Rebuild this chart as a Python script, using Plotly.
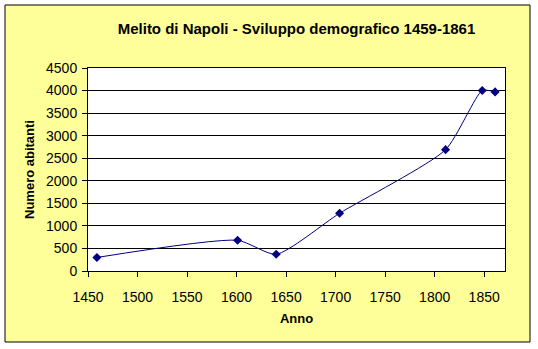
import plotly.graph_objects as go

# Population of Melito di Napoli by census year
anni = [1459, 1601, 1640, 1704, 1811, 1848, 1861]
abitanti = [300, 680, 370, 1280, 2690, 4000, 3970]

title_text = "Melito di Napoli - Sviluppo demografico 1459-1861"
x_title = "Anno"
y_title = "Numero abitanti"

W, H = 538, 349
L, R, T, B = 88, 33, 68, 78
pw, ph = W - L - R, H - T - B

FONT = "Arial, Liberation Sans, sans-serif"

fig = go.Figure()
fig.add_trace(go.Scatter(
    x=anni, y=abitanti, mode="lines+markers",
    line=dict(color="#000080", width=1, shape="spline", smoothing=0.6),
    marker=dict(symbol="diamond", size=7, color="#000080"),
    showlegend=False,
))

# Yellow chart frame, then the white plot area on top of it
fig.add_shape(type="rect", layer="below", xref="paper", yref="paper",
              x0=(5 - L) / pw, x1=(530 - L) / pw,
              y0=(H - B - 342) / ph, y1=(H - B - 5) / ph,
              fillcolor="#FFFF99", line=dict(color="black", width=1))
fig.add_shape(type="rect", layer="below", xref="paper", yref="paper",
              x0=0, x1=1, y0=0, y1=1,
              fillcolor="white", line=dict(width=0))

axis_common = dict(
    showline=True, linecolor="black", linewidth=1, mirror=True,
    ticks="outside", ticklen=5, tickcolor="black", tickwidth=1,
    tickfont=dict(family=FONT, size=14, color="black"),
    zeroline=False,
)

fig.update_xaxes(range=[1450, 1871], tick0=1450, dtick=50, showgrid=False,
                 ticklabelstandoff=8,
                 title=dict(text=f"<b>{x_title}</b>", standoff=10,
                            font=dict(family=FONT, size=13, color="black")),
                 **axis_common)
fig.update_yaxes(range=[0, 4500], tick0=0, dtick=500, showgrid=True,
                 gridcolor="black", gridwidth=1,
                 ticklabelstandoff=2,
                 title=dict(text=f"<b>{y_title}</b>", standoff=8,
                            font=dict(family=FONT, size=13, color="black")),
                 **axis_common)

fig.update_layout(
    width=W, height=H,
    margin=dict(l=L, r=R, t=T, b=B, pad=0),
    paper_bgcolor="white", plot_bgcolor="white",
    title=dict(text=f"<b>{title_text}</b>", x=(L + pw / 2) / W, xanchor="center",
               y=1 - 29 / H, yanchor="middle",
               font=dict(family=FONT, size=15, color="black")),
)

fig.write_html("out.html")
